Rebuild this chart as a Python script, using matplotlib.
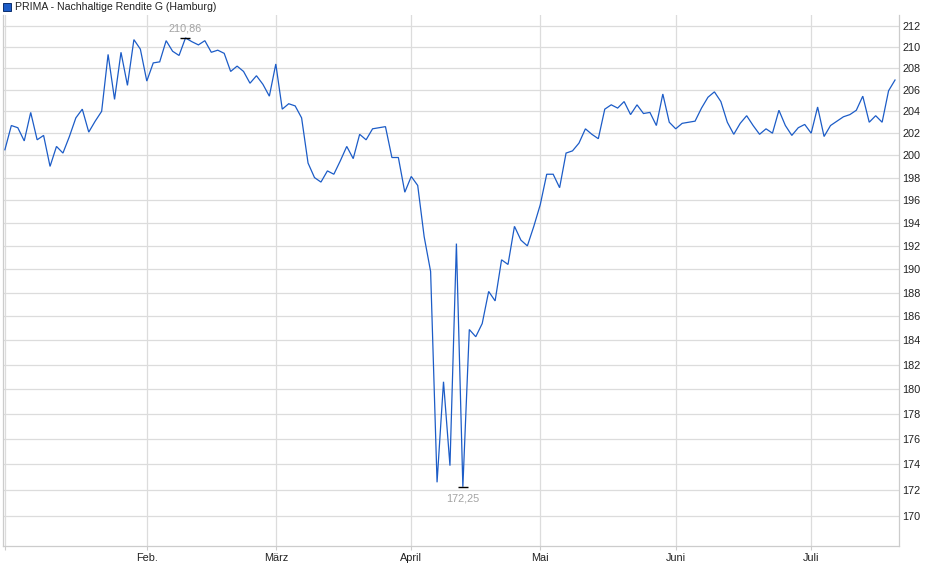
import matplotlib
matplotlib.use("Agg")
import matplotlib.pyplot as plt
from matplotlib.ticker import FixedLocator, NullLocator, NullFormatter
from matplotlib.patches import Rectangle

plt.rcParams['font.family'] = ['Liberation Sans', 'DejaVu Sans']

title = "PRIMA - Nachhaltige Rendite G (Hamburg)"

prices = [
    200.5, 202.7, 202.5, 201.3, 203.9, 201.4, 201.8, 199.0, 200.8, 200.2,
    201.7, 203.4, 204.2, 202.1, 203.1, 204.0, 209.3, 205.1, 209.5, 206.4,
    210.7, 209.8, 206.8, 208.5, 208.6, 210.6, 209.6, 209.2, 210.86, 210.5,
    210.2, 210.6, 209.5, 209.7, 209.4, 207.7, 208.2, 207.7, 206.6, 207.3,
    206.5, 205.4, 208.4, 204.2, 204.7, 204.5, 203.4, 199.3, 198.0, 197.6,
    198.6, 198.3, 199.5, 200.8, 199.7, 201.9, 201.4, 202.4, 202.5, 202.6,
    199.8, 199.8, 196.7, 198.1, 197.3, 192.8, 189.8, 172.6, 180.6, 173.9,
    192.2, 172.25, 184.9, 184.3, 185.4, 188.1, 187.3, 190.8, 190.4, 193.7,
    192.5, 192.0, 193.7, 195.6, 198.3, 198.3, 197.1, 200.2, 200.4, 201.1,
    202.4, 201.9, 201.5, 204.2, 204.6, 204.3, 204.9, 203.7, 204.6, 203.8,
    203.9, 202.7, 205.6, 203.0, 202.4, 202.9, 203.0, 203.1, 204.3, 205.3,
    205.8, 204.9, 203.0, 201.9, 202.9, 203.6, 202.7, 201.9, 202.4, 202.0,
    204.1, 202.7, 201.8, 202.5, 202.8, 202.0, 204.4, 201.7, 202.7, 203.1,
    203.5, 203.7, 204.1, 205.4, 203.0, 203.6, 203.0, 205.9, 206.9,
]

# month starts (trading-day index) and labels
month_pos = [0, 22, 42, 63, 83, 104, 125]
month_labels = ["", "Feb.", "März", "April", "Mai", "Juni", "Juli"]
y_ticks = list(range(170, 213, 2))

W, H = 940, 579
fig = plt.figure(figsize=(W / 100, H / 100), dpi=100)
left, right, top, bottom = 2.7, 898.7, 15, 545.7
ax = fig.add_axes([left / W, 1 - bottom / H, (right - left) / W, (bottom - top) / H])

x = list(range(len(prices)))
line_color = "#1c5cc7"
ax.plot(x, prices, color=line_color, lw=0.9, solid_joinstyle="miter", zorder=3)

ax.set_yscale("log")
ax.set_ylim(167.74, 213.05)
ax.set_xlim(-0.34, 138.57)

ax.yaxis.set_major_locator(FixedLocator(y_ticks))
ax.yaxis.set_minor_locator(NullLocator())
ax.yaxis.set_minor_formatter(NullFormatter())
ax.set_yticklabels([str(v) for v in y_ticks])
ax.yaxis.tick_right()
ax.tick_params(axis="y", which="both", length=0, pad=2.5, labelsize=7.8, labelcolor="#222222")

ax.set_xticks(month_pos)
ax.set_xticklabels(month_labels)
ax.tick_params(axis="x", length=3, width=0.8, color="#cccccc", pad=2.0, labelsize=7.8, labelcolor="#222222")

ax.grid(True, which="major", color="#dcdcdc", lw=0.9)
ax.set_axisbelow(True)
for s in ["left", "bottom", "right"]:
    ax.spines[s].set_color("#cccccc")
    ax.spines[s].set_linewidth(0.9)
ax.spines["top"].set_visible(False)

# max / min markers
imax = max(range(len(prices)), key=lambda k: prices[k])
imin = min(range(len(prices)), key=lambda k: prices[k])
for idx, va, off in [(imax, "bottom", 3.0), (imin, "top", -4.5)]:
    ax.plot([idx], [prices[idx]], marker="_", ms=7, mew=1.0, color="black", zorder=4)
    ax.annotate(f"{prices[idx]:.2f}".replace(".", ","), (idx, prices[idx]),
                xytext=(0, off), textcoords="offset points", ha="center", va=va,
                fontsize=7.8, color="#a3a3a3", zorder=5)

# legend-like title
fig.patches.append(Rectangle((3 / W, 1 - 11 / H), 7.5 / W, 7.5 / H, transform=fig.transFigure,
                             facecolor="#1c5cc7", edgecolor="#0b2f6e", lw=0.7))
fig.text(15 / W, 1 - 7 / H, title, ha="left", va="center", fontsize=7.6, color="#222222")

fig.savefig("out.png", dpi=100)
